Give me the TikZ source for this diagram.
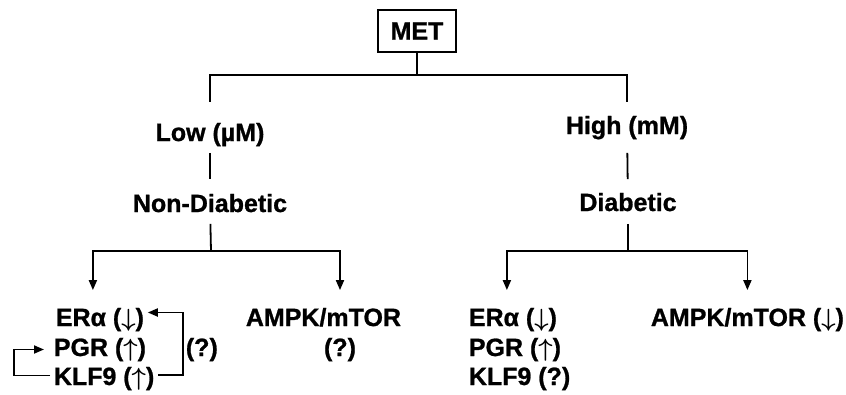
\documentclass[tikz,border=0pt]{standalone}
\usepackage{amsmath}
\usepackage{fontspec}
\setmainfont{Liberation Sans}[BoldFeatures={FakeBold=1}]
\usetikzlibrary{arrows.meta}

\newcommand{\dn}{$\downarrow$}
\newcommand{\up}{$\uparrow$}

\begin{document}
\begin{tikzpicture}[x=1pt, y=-1pt, line width=1.8pt,
        font=\fontsize{25}{30}\selectfont\bfseries\boldmath,
        lbl/.style={inner sep=0pt, inner xsep=3pt, text height=18pt, text depth=5pt},
        tip/.style={-{Triangle[width=8pt,length=10pt]}}]
    \useasboundingbox (0,0) rectangle (846,394);

    % dose and condition
    \node[draw, line width=1.2pt, minimum width=78pt, minimum height=42pt, inner sep=0pt] (met) at (417,31) {MET};
    \node[lbl, anchor=base] (low) at (210,141) {Low (µM)};
    \node[lbl, anchor=base] (nond) at (210,212) {Non-Diabetic};
    \node[lbl, anchor=base] (high) at (627,134) {High (mM)};
    \node[lbl, anchor=base] (diab) at (628,211) {Diabetic};

    % targets, low dose
    \node[lbl, anchor=base west] (eraL) at (52,326) {ERα (\dn)};
    \node[lbl, anchor=base west] (pgrL) at (50,356) {PGR (\up)};
    \node[lbl, anchor=base west] (klfL) at (50,385) {KLF9 (\up)};
    \node[lbl, anchor=base west] (qbr) at (182,356) {(?)};
    \node[lbl, anchor=base west] (ampkL) at (242,326) {AMPK/mTOR};
    \node[lbl, anchor=base] (qL) at (340,356) {(?)};

    % targets, high dose
    \node[lbl, anchor=base west] (eraR) at (465,326) {ERα (\dn)};
    \node[lbl, anchor=base west] (pgrR) at (465,356) {PGR (\up)};
    \node[lbl, anchor=base west] (klfR) at (465,385) {KLF9 (?)};
    \node[lbl, anchor=base west] (ampkR) at (647,326) {AMPK/mTOR (\dn)};

    \coordinate (top) at (417,75);
    \coordinate (splitL) at (211,251);
    \coordinate (splitR) at (628,251);
    \coordinate (brk) at (183,345);
    \coordinate (lbrk) at (14,368);

    \draw (met.south) -- (top);
    \draw[shorten >=20pt] (top) -| (low.north);
    \draw[shorten >=13pt] (top) -| (high.north);
    \draw[shorten <=6pt, shorten >=14pt] (low) -- (nond);
    \draw[shorten <=13pt, shorten >=13pt] (high) -- (diab);
    \draw[shorten <=6pt] (nond) -- (splitL);
    \draw[shorten <=7pt] (diab) -- (splitR);

    \draw[tip, shorten >=17pt] (splitL) -| ([xshift=-7pt]eraL.north);
    \draw[tip, shorten >=17pt] (splitL) -| (ampkL.north -| qL);
    \draw[tip, shorten >=17pt] (splitR) -| ([xshift=-6pt]eraR.north);
    \draw[tip, shorten >=17pt] (splitR) -| (ampkR.north);

    % feedback loops
    \draw[tip] ([yshift=3.5pt]klfL.east) -| (brk) |- ([yshift=7pt]eraL.east);
    \draw[tip, shorten >=6pt] ([yshift=3pt]klfL.west) -| (lbrk) |- (pgrL.west);
\end{tikzpicture}
\end{document}
